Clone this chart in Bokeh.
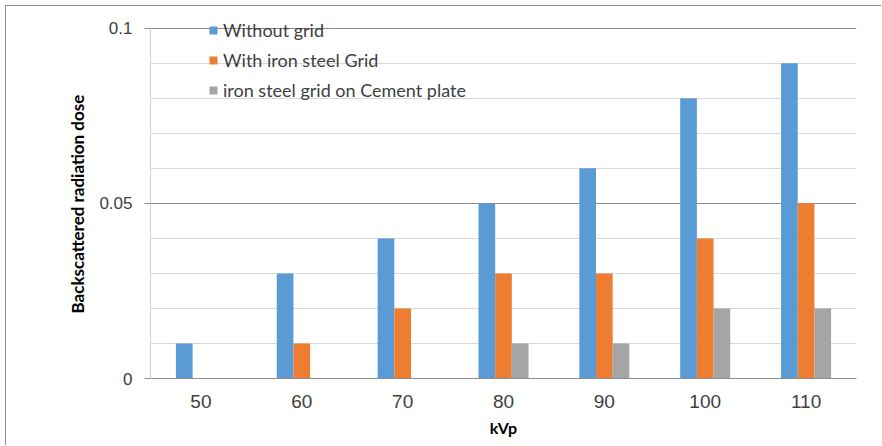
from bokeh.plotting import figure
from bokeh.models import (ColumnDataSource, FactorRange, FixedTicker, CustomJSTickFormatter,
                          Legend, LegendItem, Range1d, Title)
from bokeh.transform import dodge
from bokeh.embed import file_html
from bokeh.resources import INLINE

kvp = ["50", "60", "70", "80", "90", "100", "110"]
without_grid = [0.01, 0.03, 0.04, 0.05, 0.06, 0.08, 0.09]
with_iron_steel_grid = [0.0, 0.01, 0.02, 0.03, 0.03, 0.04, 0.05]
grid_on_cement = [0.0, 0.0, 0.0, 0.01, 0.01, 0.02, 0.02]
series_names = ["Without grid", "With iron steel Grid", "iron steel grid on Cement plate"]
colors = ["#5B9BD5", "#ED7D31", "#A5A5A5"]
y_major = [0, 0.05, 0.1]
y_minor = [0.01, 0.02, 0.03, 0.04, 0.06, 0.07, 0.08, 0.09]

src = ColumnDataSource(dict(kvp=kvp, a=without_grid, b=with_iron_steel_grid, c=grid_on_cement))

# 0.1 sits 350.3 px above 0; frame extends 15.7 px above 0.1 so the legend is not clipped
y_top = 0.1 * (1 + 15.7 / 350.3)

p = figure(width=876, height=440, output_backend="svg", toolbar_location=None,
           x_range=FactorRange(*kvp, range_padding=0), y_range=Range1d(0, y_top),
           min_border_left=144, min_border_right=26, min_border_top=6, min_border_bottom=68)
p.outline_line_color = None
p.background_fill_color = "white"
p.styles = {"margin-left": "5px", "margin-top": "5px",
            "border-left": "1px solid #8c8c8c", "border-top": "1px solid #8c8c8c"}

bw = 0.1653
renderers = []
for key, off, col in zip(["a", "b", "c"], [-bw, 0, bw], colors):
    r = p.vbar(x=dodge("kvp", off, range=p.x_range), top=key, width=bw, source=src,
               fill_color=col, line_color=None)
    renderers.append(r)

# grids
p.xgrid.grid_line_color = None
p.ygrid.ticker = FixedTicker(ticks=y_major, minor_ticks=y_minor)
p.ygrid.grid_line_color = "#8c8c8c"
p.ygrid.minor_grid_line_color = "#d9d9d9"
p.ygrid.level = "underlay"

# y axis
ya = p.yaxis[0]
ya.ticker = FixedTicker(ticks=y_major, minor_ticks=y_minor)
ya.bounds = (0, 0.1)
ya.formatter = CustomJSTickFormatter(code="return tick.toString();")
ya.axis_line_color = "#d0d0d0"
ya.major_tick_line_color = "#8c8c8c"
ya.major_tick_out = 6
ya.major_tick_in = 0
ya.minor_tick_line_color = None
ya.major_label_text_font = "Liberation Sans"
ya.major_label_text_font_size = "17px"
ya.major_label_text_color = "#404040"
ya.major_label_standoff = 12

ytitle = Title(text="Backscattered radiation dose", align="left", offset=65, standoff=18,
               text_font="Lato", text_font_style="bold", text_font_size="17px",
               text_color="#000000")
p.add_layout(ytitle, "left")

# x axis
xa = p.xaxis[0]
xa.axis_line_color = "#8c8c8c"
xa.major_tick_line_color = None
xa.minor_tick_line_color = None
xa.major_tick_out = 0
xa.major_label_text_font = "Liberation Sans"
xa.major_label_text_font_size = "19px"
xa.major_label_text_color = "#404040"
xa.major_label_standoff = 16
xa.axis_label = "kVp"
xa.axis_label_text_font = "Lato"
xa.axis_label_text_font_style = "bold"
xa.axis_label_text_font_size = "16px"
xa.axis_label_text_color = "#000000"
xa.axis_label_standoff = 7

legend = Legend(items=[LegendItem(label=n, renderers=[r]) for n, r in zip(series_names, renderers)],
                location=(58, 277), glyph_width=10, glyph_height=10, label_standoff=5,
                label_height=20, spacing=8, padding=0, margin=0,
                background_fill_alpha=0, border_line_color=None,
                label_text_font="Lato", label_text_font_size="18px", label_text_color="#404040")
p.add_layout(legend, "center")

open("out.html", "w").write(file_html(p, INLINE))
